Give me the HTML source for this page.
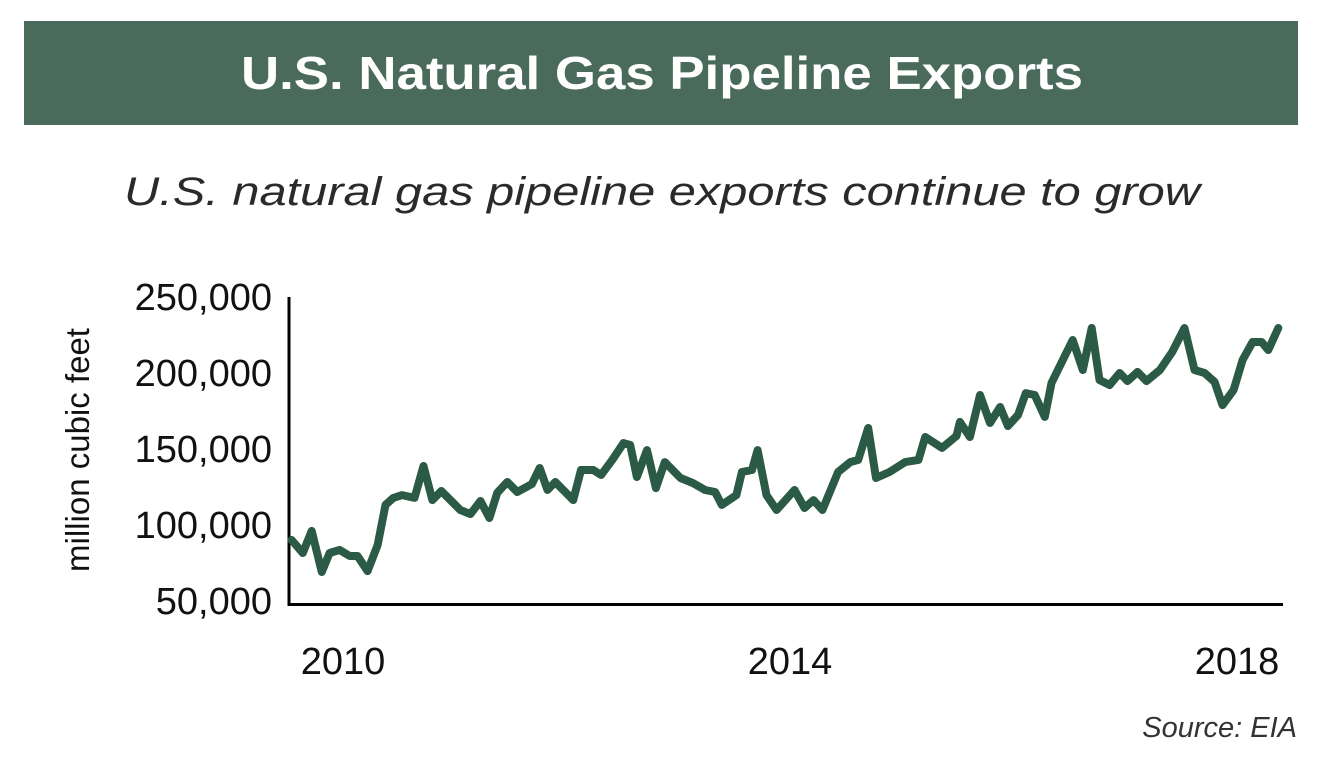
<!DOCTYPE html>
<html><head><meta charset="utf-8">
<style>
html,body{margin:0;padding:0;background:#fff;}
body{width:1328px;height:780px;overflow:hidden;position:relative;font-family:"Liberation Sans",sans-serif;}
#title-bar{position:absolute;left:24px;top:21px;width:1274px;height:104px;background:#4a6b5c;}
svg{position:absolute;left:0;top:0;}
</style></head>
<body>
<div id="title-bar"></div>
<svg id="chart" width="1328" height="780">
<text x="241" y="89" textLength="842" lengthAdjust="spacingAndGlyphs" font-size="46" font-weight="bold" fill="#fff" font-family="Liberation Sans, sans-serif">U.S. Natural Gas Pipeline Exports</text>
<text x="124" y="205" textLength="1076" lengthAdjust="spacingAndGlyphs" font-size="40" font-style="italic" fill="#2a2a2a" font-family="Liberation Sans, sans-serif">U.S. natural gas pipeline exports continue to grow</text>
</svg>
<script>
const dates=[2009.54,2009.64,2009.72,2009.81,2009.88,2009.97,2010.06,2010.13,2010.22,2010.31,2010.38,2010.45,2010.53,2010.64,2010.72,2010.80,2010.88,2011.05,2011.14,2011.23,2011.31,2011.38,2011.47,2011.56,2011.69,2011.76,2011.83,2011.90,2012.06,2012.13,2012.24,2012.31,2012.41,2012.51,2012.57,2012.63,2012.72,2012.80,2012.88,2013.02,2013.13,2013.24,2013.33,2013.39,2013.52,2013.57,2013.66,2013.71,2013.79,2013.88,2014.04,2014.13,2014.21,2014.29,2014.43,2014.54,2014.61,2014.70,2014.77,2014.89,2015.03,2015.15,2015.21,2015.36,2015.49,2015.52,2015.61,2015.70,2015.79,2015.88,2015.95,2016.04,2016.11,2016.19,2016.28,2016.34,2016.42,2016.53,2016.62,2016.70,2016.77,2016.86,2016.95,2017.02,2017.11,2017.19,2017.31,2017.42,2017.53,2017.62,2017.71,2017.80,2017.87,2017.97,2018.05,2018.14,2018.22,2018.28,2018.37];
const exportsMcf=[90100,81600,96100,69100,81600,83600,79600,79600,69700,86800,113200,117800,119700,117800,138800,116400,122400,109900,107200,115800,104600,121100,128300,121700,127000,137500,123000,128300,116400,136200,136200,132900,142800,153900,152600,131600,149300,124300,141400,130900,127600,123000,121700,113200,119700,134900,136200,149300,119700,109900,123000,111200,116400,109900,134900,141400,142800,163800,130900,134900,141400,142800,157900,150700,158600,167800,157900,185500,167100,177600,165100,172400,186800,185500,171100,193400,205300,221700,202000,229600,195400,192100,200000,194700,200700,194700,202000,213800,229600,202000,200000,194100,178900,188800,208600,220400,220400,215100,229600];
const yTicks=[50000,100000,150000,200000,250000];
const yTickLabels=["50,000","100,000","150,000","200,000","250,000"];
const xTicks=[2010,2014,2018];
const xTickLabels=["2010","2014","2018"];

const NS="http://www.w3.org/2000/svg";
const svg=document.getElementById('chart');
const x=v=>343+(v-2010)*111.75;
const y=v=>601-(v-50000)/1000*1.52;
function mk(tag,attrs){const e=document.createElementNS(NS,tag);for(const k in attrs)e.setAttribute(k,attrs[k]);svg.appendChild(e);return e;}

const yl=mk('line',{x1:289,y1:297,x2:289,y2:606,stroke:'#000','stroke-width':3});


const xl=mk('line',{x1:288,y1:604.5,x2:1283,y2:604.5,stroke:'#000','stroke-width':3});



yTicks.forEach((t,i)=>{
  const e=mk('text',{x:272,y:y(t)+13,'text-anchor':'end','font-size':38,fill:'#111','font-family':'"Liberation Sans Narrow","Liberation Sans",sans-serif'});
  e.textContent=yTickLabels[i];
  
  
});
xTicks.forEach((t,i)=>{
  const e=mk('text',{x:x(t),y:674,'text-anchor':'middle','font-size':38,fill:'#111','font-family':'"Liberation Sans Narrow","Liberation Sans",sans-serif'});
  e.textContent=xTickLabels[i];
  
  
});
const yt=mk('text',{x:0,y:0,transform:'translate(89,450) rotate(-90)','text-anchor':'middle','font-size':33,fill:'#111','font-family':'"Liberation Sans Narrow","Liberation Sans",sans-serif'});
yt.textContent='million cubic feet';



const pts=dates.map((d,i)=>x(d).toFixed(1)+','+y(exportsMcf[i]).toFixed(1)).join(' ');
const line=mk('polyline',{points:pts,fill:'none',stroke:'#2b5a46','stroke-width':8,'stroke-linejoin':'round','stroke-linecap':'round'});



const src=mk('text',{x:1297,y:737,'text-anchor':'end','font-size':29,'font-style':'italic',fill:'#333','font-family':'"Liberation Sans Narrow","Liberation Sans",sans-serif'});
src.textContent='Source: EIA';


</script>
</body></html>
